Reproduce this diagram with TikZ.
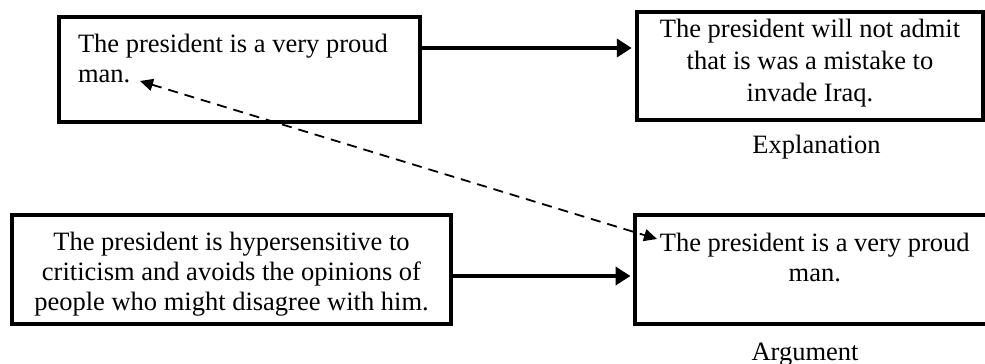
\documentclass[tikz,border=0pt]{standalone}
\usepackage{fontspec}
\setmainfont{Liberation Serif}
\usetikzlibrary{arrows.meta}

\begin{document}
\begin{tikzpicture}[x=0.5pt,y=-0.5pt,
  claim/.style={draw,line width=2pt,inner xsep=0pt,inner ysep=0pt,font=\fontsize{13.25pt}{15.25pt}\selectfont},
  caption/.style={anchor=base,inner sep=0pt,font=\fontsize{13.25pt}{15.25pt}\selectfont},
  link/.style={line width=2pt,-{Triangle[length=7.5pt,width=9pt]}},
  hint/.style={line width=0.9pt,dash pattern=on 5pt off 3.5pt,{Triangle[length=6.5pt,width=6pt]}-{Triangle[length=6.5pt,width=6pt]}}]
\useasboundingbox (0,0) rectangle (985,364);
% explanation
\node[claim,inner xsep=9.5pt] (proud1) at (239.5,69.5)
  {\parbox[c][52.5pt][t]{161.5pt}{\vspace*{8.45pt}\raggedright The president is a very proud\\man.}};
\node[claim] (mistake) at (810,66)
  {\parbox[c][54pt][t]{172.75pt}{\fontsize{13.25pt}{16.1pt}\selectfont\vspace*{3.6pt}\centering The president will not admit\\that is was a mistake to\\invade Iraq.}};
\node[caption] (expl) at ([shift={(6.5,31)}]mistake.south) {Explanation};
\draw[link,shorten >=1.75pt] ([shift={(0,-21.5)}]proud1.east) -- ([shift={(0,-18)}]mistake.west);
% argument
\node[claim] (critic) at (231.5,269.5)
  {\parbox[c][54.5pt][t]{219.5pt}{\fontsize{13.25pt}{14.85pt}\selectfont\vspace*{8.8pt}\centering The president is hypersensitive to\\criticism and avoids the opinions of\\people who might disagree with him.}};
\node[claim] (proud2) at (814.75,269.5)
  {\parbox[c][54.5pt][t]{180.25pt}{\fontsize{13.25pt}{15pt}\selectfont\vspace*{9.3pt}\centering The president is a very proud\\man.}};
\node[caption] (argu) at ([shift={(-9.75,34)}]proud2.south) {Argument};
\draw[link,shorten >=1pt] ([shift={(0,6.5)}]critic.east) -- ([shift={(0,6.5)}]proud2.west);
% same claim
\draw[hint] ([shift={(-99.5,11.5)}]proud1.center) -- ([shift={(-157.75,-30.5)}]proud2.center);
\end{tikzpicture}
\end{document}
